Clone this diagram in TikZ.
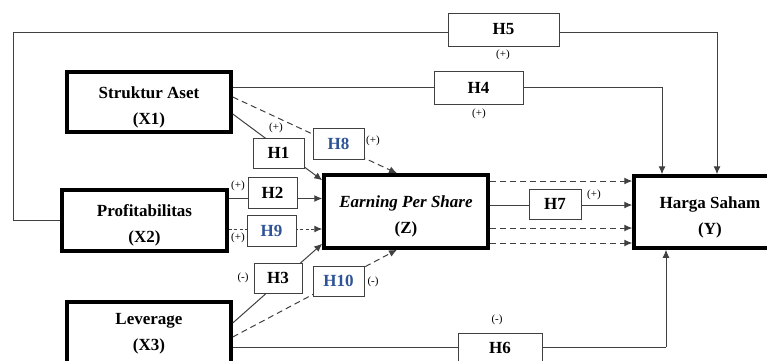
\documentclass[tikz,border=0pt]{standalone}
\usepackage{fontspec}
\setmainfont{Liberation Serif}
\usetikzlibrary{arrows.meta,positioning}
\definecolor{hypblue}{RGB}{47,84,150}
\definecolor{linegray}{RGB}{64,64,64}
\newcommand{\vartext}[3][22pt]{\rule{0pt}{#1}#2\\#3}
\tikzset{
  var/.style={draw, line width=3.5pt, fill=white, align=center,
    font=\fontsize{17}{26}\selectfont\bfseries, inner sep=0pt},
  hyp/.style={draw=linegray, line width=1pt, fill=white,
    font=\fontsize{17}{19}\selectfont\bfseries, inner sep=0pt},
  sign/.style={font=\fontsize{11}{12}\selectfont, inner sep=0pt},
  link/.style={draw=linegray, line width=1pt},
  arr/.style={link, -{Latex[length=8pt,width=7pt]}},
  med/.style={arr, dash pattern=on 6pt off 4pt},
  medz/.style={arr, dash pattern=on 3pt off 2.5pt}
}
\begin{document}
\begin{tikzpicture}[x=1pt,y=1pt]
  \useasboundingbox (0,0) rectangle (767,360);
  \clip (0,0) rectangle (767,360);
  % variables
  \node[var, minimum width=164, minimum height=60] (X1) at (149,258) {\vartext{Struktur Aset}{(X1)}};
  \node[var, minimum width=165, minimum height=61] (X2) at (144.5,139.5) {\vartext{Profitabilitas}{(X2)}};
  \node[var, minimum width=164, minimum height=64] (X3) at (149,26) {\vartext[6pt]{Leverage}{(X3)}};
  \node[var, minimum width=164, minimum height=73] (Z) at (406,148.5) {\vartext{\textit{Earning Per Share}}{(Z)}};
  \node[var, minimum width=152, minimum height=72] (Y) at (710,148) {\vartext{Harga Saham}{(Y)}};

  % direct paths
  \draw[arr] ([yshift=-12pt]X1.east) -- ([yshift=-7pt]Z.north west);
  \draw[arr] ([yshift=22pt]X2.east) coordinate (p2) -- (p2 -| Z.west);
  \draw[arr] ([yshift=11pt]X3.east) -- ([yshift=6pt]Z.south west);
  \draw[arr] ([yshift=6.5pt]Z.east) coordinate (p7) -- (p7 -| Y.west);
  \draw[link] (X1.east |- 0,272.5) -- (478,272.5);
  \draw[arr] (478,272.5) -| ([xshift=-48pt]Y.north);
  \coordinate (c5) at (13,328);
  \draw[link] (X2.west) -| (c5) -- (503,328);
  \draw[arr] (503,328) -| ([xshift=7pt]Y.north);
  \draw[link] ([yshift=-13pt]X3.east) coordinate (p6) -- (p6 -| 666,0);
  \draw[arr] (p6 -| 666,0) -- ([xshift=-44pt]Y.south);

  % mediation paths
  \draw[med] ([yshift=5pt]X1.east) -- ([xshift=-9pt]Z.north);
  \draw[medz] ([yshift=-8.5pt]X2.east) coordinate (p9) -- (p9 -| Z.west);
  \draw[med] ([yshift=-3pt]X3.east) -- ([xshift=-9pt]Z.south);
  \draw[med] ([yshift=30.5pt]Z.east) coordinate (m1) -- (m1 -| Y.west);
  \draw[med] ([yshift=-16.5pt]Z.east) coordinate (m2) -- (m2 -| Y.west);
  \draw[med] ([yshift=-31.5pt]Z.east) coordinate (m3) -- (m3 -| Y.west);

  % hypotheses
  \node[hyp, minimum width=51, minimum height=30] (H1) at (278.5,207) {H1};
  \node[hyp, minimum width=49, minimum height=31] (H2) at (272.5,167.5) {H2};
  \node[hyp, minimum width=48, minimum height=30] (H3) at (278,82) {H3};
  \node[hyp, minimum width=89, minimum height=33] (H4) at (478.5,272.5) {H4};
  \node[hyp, minimum width=111, minimum height=33] (H5) at (503.5,330.5) {H5};
  \node[hyp, minimum width=84, minimum height=30] (H6) at (500,12) {H6};
  \node[hyp, minimum width=52, minimum height=30] (H7) at (555,156) {H7};
  \node[hyp, minimum width=51, minimum height=31, text=hypblue] (H8) at (338.5,216.5) {H8};
  \node[hyp, minimum width=49, minimum height=31, text=hypblue] (H9) at (271.5,129.5) {H9};
  \node[hyp, minimum width=51, minimum height=30, text=hypblue] (H10) at (338.5,79) {H10};

  % signs
  \node[sign] (s1) at (276,232) {(+)};
  \node[sign] (s2) at (238,174) {(+)};
  \node[sign] (s3) at (243,82) {(-)};
  \node[sign] (s4) at (479,246) {(+)};
  \node[sign] (s5) at (503,305) {(+)};
  \node[sign] (s6) at (497,40) {(-)};
  \node[sign] (s7) at (594,165) {(+)};
  \node[sign] (s8) at (373,219) {(+)};
  \node[sign] (s9) at (238,122) {(+)};
  \node[sign] (s10) at (373,78) {(-)};
\end{tikzpicture}
\end{document}
